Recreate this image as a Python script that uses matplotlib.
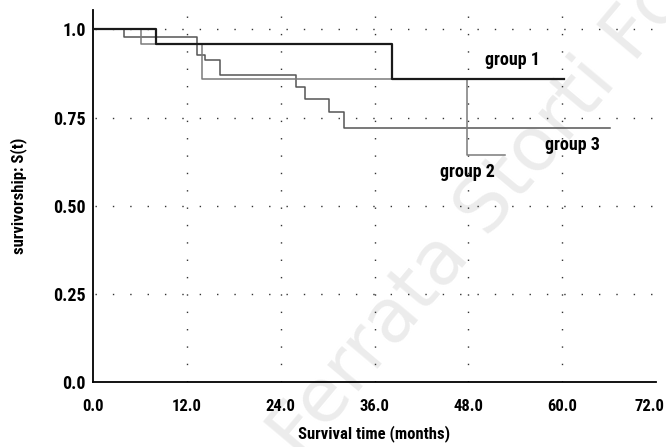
import matplotlib
matplotlib.use("Agg")
import matplotlib.pyplot as plt
import matplotlib.transforms as mtransforms

# Kaplan-Meier style survival curves (months, S(t))
group1_t = [0.0, 8.1, 38.3, 60.2]
group1_s = [1.0, 0.958, 0.86, 0.86]

group2_t = [0.0, 6.1, 14.0, 47.8, 52.7]
group2_s = [1.0, 0.958, 0.86, 0.644, 0.644]

group3_t = [0.0, 4.0, 13.3, 14.3, 16.2, 26.0, 27.1, 30.2, 32.1, 66.1]
group3_s = [1.0, 0.979, 0.927, 0.913, 0.87, 0.838, 0.803, 0.765, 0.72, 0.72]

x_ticks = [0, 12, 24, 36, 48, 60, 72]
x_tick_labels = ["0.0", "12.0", "24.0", "36.0", "48.0", "60.0", "72.0"]
y_ticks = [0, 0.25, 0.5, 0.75, 1.0]
y_tick_labels = ["0.0", "0.25", "0.50", "0.75", "1.0"]

plt.rcParams['font.family'] = ['Roboto Condensed', 'DejaVu Sans']
plt.rcParams['font.weight'] = 'bold'
plt.rcParams['axes.labelweight'] = 'bold'

fig = plt.figure(figsize=(6.66, 4.47), dpi=100)
ax = fig.add_axes([93 / 666, 65 / 447, 563 / 666, 372 / 447])

# faint watermark behind the chart
fig.text(300 / 666, -14 / 447, "Ferrata Storti Foundation", fontsize=54,
         color='#ececec', rotation=50, rotation_mode='anchor',
         ha='left', va='baseline', zorder=-1, fontweight='normal',
         family=['DejaVu Sans'])
ax.set_facecolor('none')

# dotted grid
dot = (0, (1, 11.5))
for yv in [0.25, 0.5, 0.75, 1.0]:
    ax.plot([0.3, 72], [yv, yv], color='#333333', lw=1.0, linestyle=dot, zorder=1)
for xv in [12, 24, 36, 48, 60]:
    ax.plot([xv, xv], [0, 1.05], color='#333333', lw=1.0, linestyle=dot, zorder=1)

ax.step(group3_t, group3_s, where='post', color='#555555', lw=1.1, zorder=3)
ax.step(group2_t, group2_s, where='post', color='#7a7a7a', lw=1.1, zorder=3)
ax.step(group1_t, group1_s, where='post', color='#1a1a1a', lw=1.6, zorder=4)

ax.text(50.1, 0.913, "group 1", fontsize=13, va='center', ha='left')
ax.text(57.8, 0.672, "group 3", fontsize=13, va='center', ha='left')
ax.text(44.4, 0.595, "group 2", fontsize=13, va='center', ha='left')

ax.set_xlim(0, 72)
ax.set_ylim(0, 1.055)
ax.set_xticks(x_ticks)
ax.set_xticklabels(x_tick_labels)
ax.set_yticks(y_ticks)
ax.set_yticklabels(y_tick_labels)
ax.tick_params(length=0, labelsize=13)
ax.tick_params(axis='x', pad=12, labelsize=12)
ax.tick_params(axis='y', pad=5)

# nudge the last x label so it stays inside the figure
last = ax.get_xticklabels()[-1]
last.set_transform(last.get_transform() +
                   mtransforms.ScaledTranslation(-5 / 72, 0, fig.dpi_scale_trans))

for side in ['top', 'right']:
    ax.spines[side].set_visible(False)
for side in ['left', 'bottom']:
    ax.spines[side].set_linewidth(1.3)
    ax.spines[side].set_color('black')
ax.spines['left'].set_bounds(0, 1.055)

ax.set_xlabel("Survival time (months)", fontsize=12, labelpad=8)
ax.set_ylabel("survivorship: S(t)", fontsize=12, labelpad=19)

fig.savefig("out.png", dpi=100)
